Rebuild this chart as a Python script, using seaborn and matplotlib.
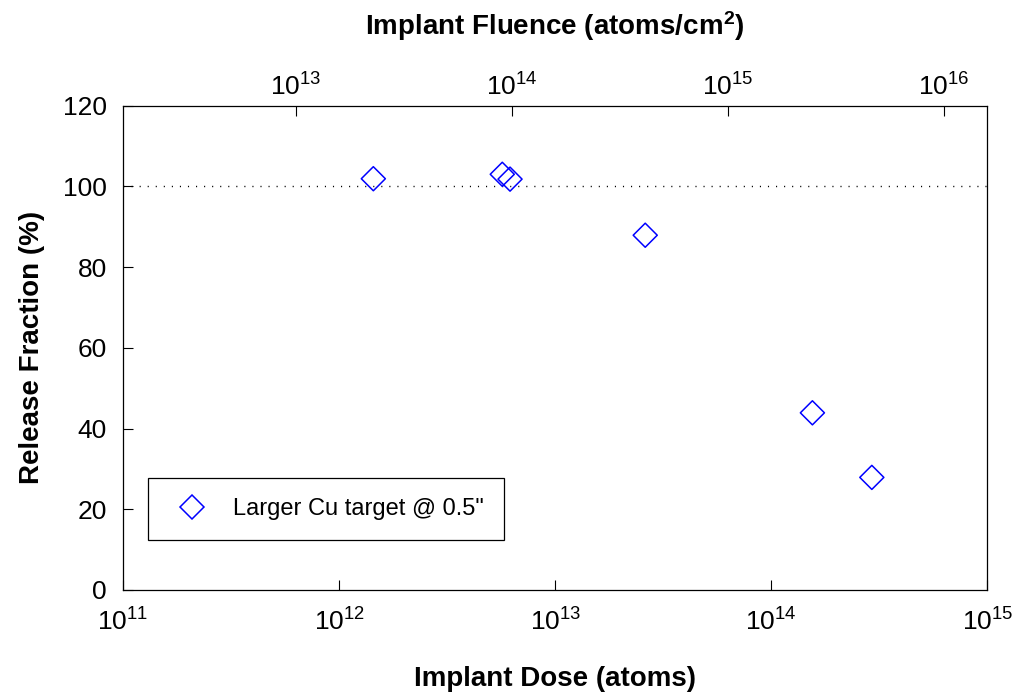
import matplotlib
matplotlib.use("Agg")
import matplotlib.pyplot as plt
import seaborn as sns
import pandas as pd

# Data
dose_atoms = [1.44e12, 5.69e12, 6.18e12, 2.61e13, 1.55e14, 2.92e14]
release_pct = [101.9, 103.0, 101.8, 87.9, 43.9, 27.9]
series_label = 'Larger Cu target @ 0.5"'
reference_line = 100
fluence_factor = 10 ** 1.2   # fluence (atoms/cm^2) per atom of dose
bottom_ticks = [1e11, 1e12, 1e13, 1e14, 1e15]
top_ticks = [1e13, 1e14, 1e15, 1e16]
y_ticks = [0, 20, 40, 60, 80, 100, 120]

sns.set_style("ticks")
plt.rcParams["font.family"] = ["Liberation Sans", "DejaVu Sans"]
plt.rcParams["mathtext.fontset"] = "custom"
plt.rcParams["mathtext.rm"] = "Liberation Sans"
plt.rcParams["mathtext.it"] = "Liberation Sans:italic"
plt.rcParams["mathtext.bf"] = "Liberation Sans:bold"
for k in ["text.color", "axes.labelcolor", "xtick.color", "ytick.color", "axes.edgecolor"]:
    plt.rcParams[k] = "black"

df = pd.DataFrame({"dose": dose_atoms, "release": release_pct, "series": series_label})

fig = plt.figure(figsize=(10.16, 6.92), dpi=100)
ax = fig.add_axes([0.1211, 0.1474, 0.8507, 0.6999])

ax.axhline(reference_line, color="black", lw=1.0, linestyle=(0, (0.8, 5.0)), zorder=1)

sns.scatterplot(data=df, x="dose", y="release", hue="series", palette=["blue"],
                marker="D", s=150, linewidth=1.1, ax=ax, zorder=3)
for coll in ax.collections:
    coll.set_facecolor("none")
    coll.set_edgecolor("blue")
    coll.set_linewidth(1.1)

ax.set_xscale("log")
ax.set_xlim(1e11, 1e15)
ax.set_ylim(0, 120)
ax.set_xticks(bottom_ticks)
ax.set_xticks([], minor=True)
ax.set_yticks(y_ticks)

for s in ax.spines.values():
    s.set_linewidth(0.9)
    s.set_color("black")
    s.set_visible(True)

ax.tick_params(axis="x", which="major", direction="in", length=7, width=0.8,
               labelsize=19, pad=13, top=False)
ax.tick_params(axis="y", which="major", direction="in", length=7, width=0.8,
               labelsize=19, pad=11.5, right=False)

ax.set_xlabel("Implant Dose (atoms)", fontsize=20, fontweight="bold", labelpad=22)
ax.set_ylabel("Release Fraction (%)", fontsize=20, fontweight="bold", labelpad=13)

ax2 = ax.twiny()
ax2.set_xscale("log")
ax2.set_xlim(1e11 * fluence_factor, 1e15 * fluence_factor)
ax2.set_xticks(top_ticks)
ax2.set_xticks([], minor=True)
ax2.tick_params(axis="x", which="major", direction="in", length=7, width=0.8,
                labelsize=19, pad=4)
ax2.set_xlabel(r"Implant Fluence (atoms/cm$^{\mathbf{2}}$)", fontsize=20,
               fontweight="bold", labelpad=27)
for s in ax2.spines.values():
    s.set_visible(False)

handles, labels = ax.get_legend_handles_labels()
leg = ax.legend(handles, labels, loc="lower left", bbox_to_anchor=(0.0293, 0.1032),
                borderaxespad=0, fontsize=17, frameon=True, fancybox=False,
                edgecolor="black", framealpha=1, borderpad=0.85,
                handlelength=2.0, handletextpad=0.75, markerscale=1.0)
leg.get_frame().set_linewidth(0.9)
for h in leg.legend_handles:
    if hasattr(h, "set_markerfacecolor"):
        h.set_markerfacecolor("none")
        h.set_markeredgecolor("blue")
        h.set_markeredgewidth(1.1)
    else:
        h.set_facecolor("none")
        h.set_edgecolor("blue")
        h.set_linewidth(1.1)

fig.savefig("out.png", dpi=100, facecolor="white")
